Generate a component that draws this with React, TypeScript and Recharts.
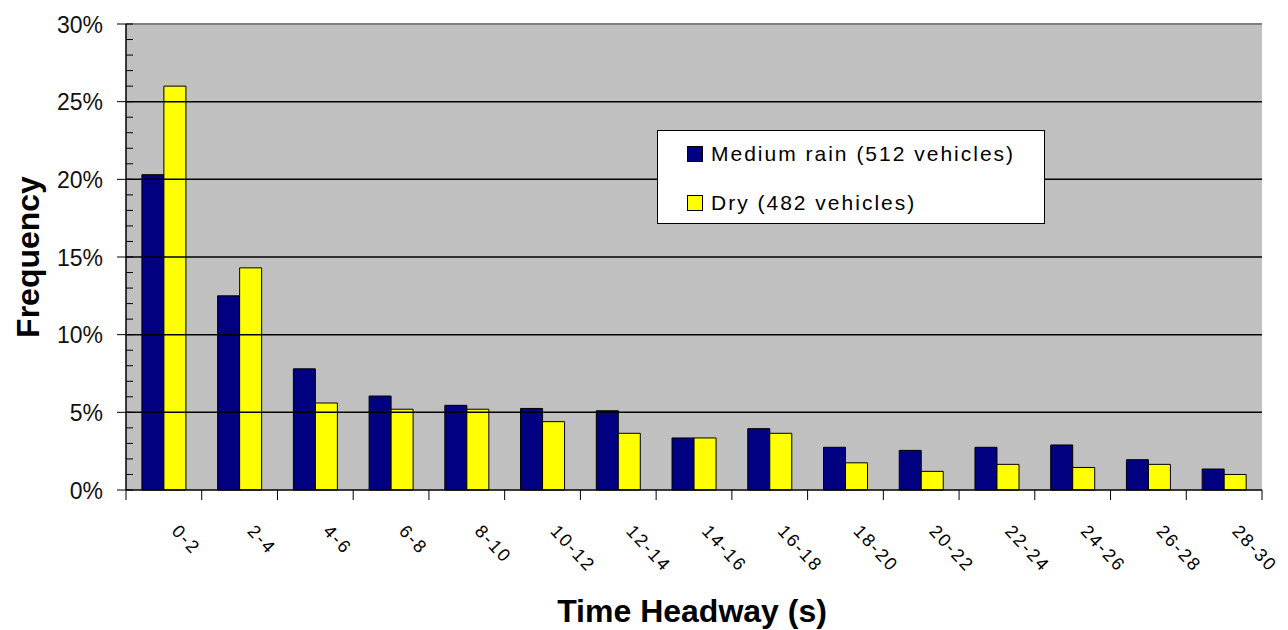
import React from 'react';
import {
  BarChart,
  Bar,
  XAxis,
  YAxis,
  CartesianGrid,
  ReferenceLine,
  Label,
} from 'recharts';

// Headway bins (s)
const bins = [
  '0-2', '2-4', '4-6', '6-8', '8-10', '10-12', '12-14', '14-16',
  '16-18', '18-20', '20-22', '22-24', '24-26', '26-28', '28-30',
];

// Frequency (%)
const mediumRain = [20.3, 12.5, 7.8, 6.05, 5.45, 5.25, 5.1, 3.35, 3.95, 2.75, 2.55, 2.75, 2.9, 1.95, 1.35];
const dry = [26.0, 14.3, 5.6, 5.2, 5.2, 4.4, 3.65, 3.35, 3.65, 1.75, 1.2, 1.65, 1.45, 1.65, 1.0];

const seriesNames = ['Medium rain (512 vehicles)', 'Dry (482 vehicles)'];

const yTicks = Array.from({ length: 31 }, (_, i) => i);
const gridLines = [5, 10, 15, 20, 25];

const RAIN_COLOR = '#000080';
const DRY_COLOR = '#FFFF00';
const FONT = 'Arial, "Liberation Sans", sans-serif';

const W = 1288;
const H = 630;
const MARGIN = { top: 24, right: 26, left: 0, bottom: 0 };
const Y_AXIS_W = 126;
// width of one category band, used only to put the x ticks on the band edges
const BAND = (W - MARGIN.right - Y_AXIS_W) / bins.length;

const chartData = bins.map((bin, i) => ({
  bin,
  rain: mediumRain[i],
  dry: dry[i],
}));

const YTick = (props: any) => {
  const { x, y, payload } = props;
  const v = payload.value as number;
  const major = v % 5 === 0;
  return (
    <g>
      {major ? (
        <>
          <line x1={x - 9} x2={x} y1={y} y2={y} stroke="#000" />
          <text
            x={x - 23}
            y={y}
            dy={8.5}
            textAnchor="end"
            fontFamily={FONT}
            fontSize={23}
            fill="#111"
          >
            {`${v}%`}
          </text>
        </>
      ) : null}
      <line x1={x} x2={x + 7} y1={y} y2={y} stroke="#000" />
    </g>
  );
};

const XTick = (props: any) => {
  const { x, y, payload, index } = props;
  const left = x - BAND / 2;
  return (
    <g>
      <line x1={left} x2={left} y1={y} y2={y + 10} stroke="#000" />
      {index === bins.length - 1 ? (
        <line x1={left + BAND} x2={left + BAND} y1={y} y2={y + 10} stroke="#000" />
      ) : null}
      <g transform={`translate(${x + 7},${y + 42})`}>
        <text
          transform="rotate(47)"
          textAnchor="start"
          fontFamily={FONT}
          fontSize={18}
          letterSpacing={2}
          fill="#000"
        >
          {payload.value}
        </text>
      </g>
    </g>
  );
};

const LegendBox = () => (
  <div
    style={{
      position: 'absolute',
      left: 657,
      top: 130,
      width: 386,
      height: 92,
      background: '#fff',
      border: '1px solid #000',
      fontFamily: FONT,
      fontSize: 21,
      letterSpacing: 2,
      color: '#000',
    }}
  >
    {seriesNames.map((name, i) => (
      <div
        key={name}
        style={{
          position: 'absolute',
          left: 29,
          top: 11 + i * 49,
          height: 24,
          display: 'flex',
          alignItems: 'center',
          whiteSpace: 'nowrap',
        }}
      >
        <span
          style={{
            display: 'inline-block',
            width: 14,
            height: 14,
            background: i === 0 ? RAIN_COLOR : DRY_COLOR,
            border: '1px solid #000',
            marginRight: 8,
          }}
        />
        <span>{name}</span>
      </div>
    ))}
  </div>
);

export default function App() {
  return (
    <div style={{ position: 'absolute', left: 0, top: 0, width: W, height: H, background: '#fff' }}>
      <BarChart
        width={W}
        height={H}
        data={chartData}
        margin={MARGIN}
        barCategoryGap="21%"
        barGap={0}
      >
        <CartesianGrid fill="#C0C0C0" horizontal={false} vertical={false} />
        <XAxis
          dataKey="bin"
          interval={0}
          height={140}
          tickSize={0}
          tickMargin={0}
          tickLine={false}
          tick={<XTick />}
          axisLine={{ stroke: '#000', strokeWidth: 1.5 }}
        >
          <Label
            content={({ viewBox }: any) => (
              <text
                x={692}
                y={622}
                textAnchor="middle"
                fontFamily={FONT}
                fontSize={32}
                fontWeight="bold"
                fill="#000"
              >
                Time Headway (s)
              </text>
            )}
          />
        </XAxis>
        <YAxis
          type="number"
          domain={[0, 30]}
          ticks={yTicks}
          interval={0}
          width={Y_AXIS_W}
          tickSize={0}
          tickMargin={0}
          tickLine={false}
          tick={<YTick />}
          axisLine={{ stroke: '#000', strokeWidth: 1.5 }}
        >
          <Label
            content={({ viewBox }: any) => {
              const cy = viewBox.y + viewBox.height / 2;
              return (
                <text
                  x={39}
                  y={cy}
                  transform={`rotate(-90, 39, ${cy})`}
                  textAnchor="middle"
                  fontFamily={FONT}
                  fontSize={32}
                  fontWeight="bold"
                  fill="#000"
                >
                  Frequency
                </text>
              );
            }}
          />
        </YAxis>
        <YAxis
          yAxisId="right"
          orientation="right"
          width={0}
          domain={[0, 30]}
          tick={false}
          tickLine={false}
          axisLine={{ stroke: '#808080', strokeWidth: 2 }}
        />
        {gridLines.map((g) => (
          <ReferenceLine key={g} y={g} stroke="#000" strokeWidth={1.5} />
        ))}
        <ReferenceLine y={30} stroke="#808080" strokeWidth={2} />
        <Bar
          dataKey="rain"
          name={seriesNames[0]}
          fill={RAIN_COLOR}
          stroke="#000"
          strokeWidth={1}
          isAnimationActive={false}
        />
        <Bar
          dataKey="dry"
          name={seriesNames[1]}
          fill={DRY_COLOR}
          stroke="#000"
          strokeWidth={1}
          isAnimationActive={false}
        />
      </BarChart>
      <LegendBox />
    </div>
  );
}
